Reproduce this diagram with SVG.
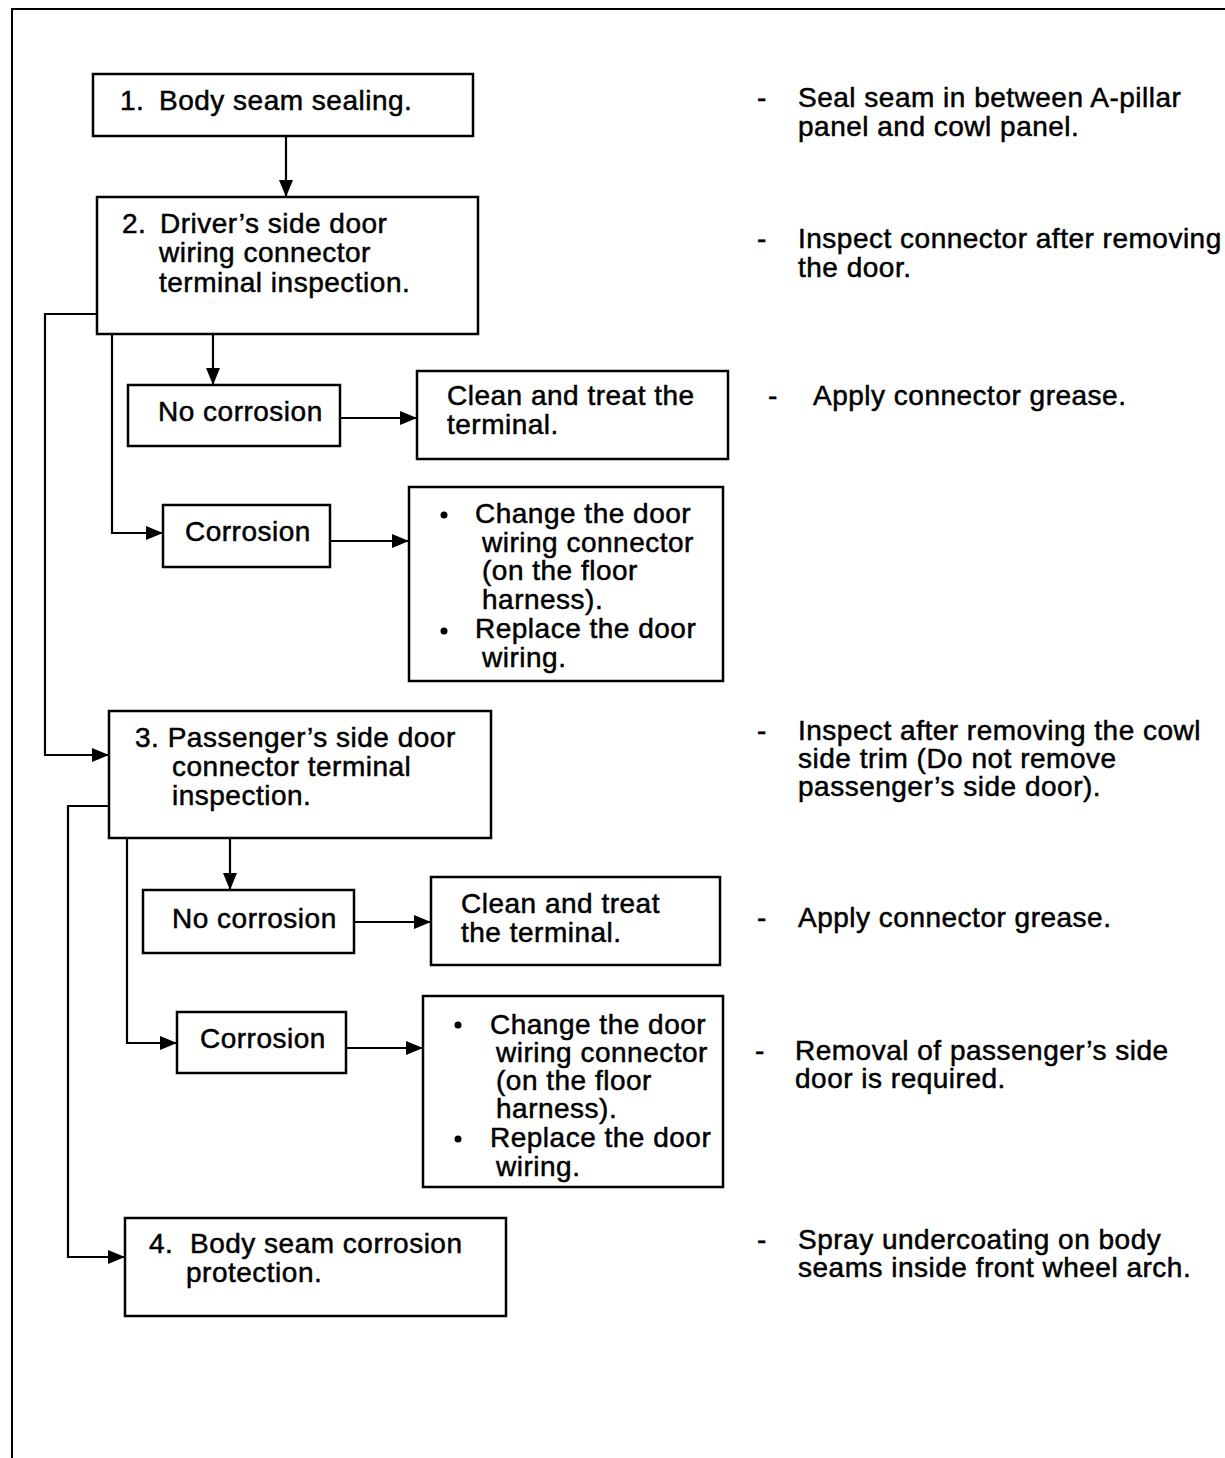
<svg xmlns="http://www.w3.org/2000/svg" width="1225" height="1458" viewBox="0 0 1225 1458">
<style>
.box{fill:#fff;stroke:#000;stroke-width:2.5}
.t{font-family:"Liberation Sans",Arial,sans-serif;font-size:28px;letter-spacing:0.5px;fill:#000;stroke:#000;stroke-width:0.5}
.c{fill:none;stroke:#000;stroke-width:2.2}
.frame{fill:none;stroke:#000;stroke-width:2}
</style>
<defs>
<marker id="ah" markerUnits="userSpaceOnUse" markerWidth="18" markerHeight="18" viewBox="0 0 18 18" refX="17" refY="9" orient="auto">
<path d="M0,2 L17,9 L0,16 Z" fill="#000"/>
</marker>
</defs>
<path class="frame" d="M12,1458 V9 H1225"/>
<g id="connectors">
<path class="c" d="M286,136 V197" marker-end="url(#ah)"/>
<path class="c" d="M213,334 V385" marker-end="url(#ah)"/>
<path class="c" d="M340,418 H417" marker-end="url(#ah)"/>
<path class="c" d="M112,334 V533 H163" marker-end="url(#ah)"/>
<path class="c" d="M330,541 H409" marker-end="url(#ah)"/>
<path class="c" d="M97,314 H45 V755 H109" marker-end="url(#ah)"/>
<path class="c" d="M230,838 V890" marker-end="url(#ah)"/>
<path class="c" d="M354,922 H431" marker-end="url(#ah)"/>
<path class="c" d="M127,838 V1043 H177" marker-end="url(#ah)"/>
<path class="c" d="M346,1048 H423" marker-end="url(#ah)"/>
<path class="c" d="M109,806 H68 V1257 H125" marker-end="url(#ah)"/>
</g>
<g id="n1">
<rect class="box" x="93" y="74" width="380" height="62"/>
<text class="t" x="120" y="110">1.</text>
<text class="t" x="159" y="110">Body seam sealing.</text>
</g>
<g id="n2">
<rect class="box" x="97" y="197" width="381" height="137"/>
<text class="t" x="122" y="233">2.</text>
<text class="t" x="160" y="233">Driver’s side door</text>
<text class="t" x="159" y="262">wiring connector</text>
<text class="t" x="159" y="292">terminal inspection.</text>
</g>
<g id="n2a">
<rect class="box" x="128" y="385" width="212" height="61"/>
<text class="t" x="158" y="421">No corrosion</text>
</g>
<g id="n2b">
<rect class="box" x="417" y="371" width="311" height="88"/>
<text class="t" x="447" y="405">Clean and treat the</text>
<text class="t" x="447" y="434">terminal.</text>
</g>
<g id="n2c">
<rect class="box" x="163" y="505" width="167" height="62"/>
<text class="t" x="185" y="541">Corrosion</text>
</g>
<g id="n2d">
<rect class="box" x="409" y="487" width="314" height="194"/>
<circle cx="444" cy="515" r="3.5"/>
<text class="t" x="475" y="523">Change the door</text>
<text class="t" x="482" y="552">wiring connector</text>
<text class="t" x="482" y="580">(on the floor</text>
<text class="t" x="482" y="609">harness).</text>
<circle cx="444" cy="631" r="3.5"/>
<text class="t" x="475" y="638">Replace the door</text>
<text class="t" x="482" y="667">wiring.</text>
</g>
<g id="n3">
<rect class="box" x="109" y="711" width="382" height="127"/>
<text class="t" x="135" y="747">3. Passenger’s side door</text>
<text class="t" x="172" y="776">connector terminal</text>
<text class="t" x="172" y="805">inspection.</text>
</g>
<g id="n3a">
<rect class="box" x="143" y="890" width="211" height="63"/>
<text class="t" x="172" y="928">No corrosion</text>
</g>
<g id="n3b">
<rect class="box" x="431" y="877" width="289" height="88"/>
<text class="t" x="461" y="913">Clean and treat</text>
<text class="t" x="461" y="942">the terminal.</text>
</g>
<g id="n3c">
<rect class="box" x="177" y="1012" width="169" height="61"/>
<text class="t" x="200" y="1048">Corrosion</text>
</g>
<g id="n3d">
<rect class="box" x="423" y="996" width="300" height="191"/>
<circle cx="458" cy="1025" r="3.5"/>
<text class="t" x="490" y="1034">Change the door</text>
<text class="t" x="496" y="1062">wiring connector</text>
<text class="t" x="496" y="1090">(on the floor</text>
<text class="t" x="496" y="1118">harness).</text>
<circle cx="458" cy="1139" r="3.5"/>
<text class="t" x="490" y="1147">Replace the door</text>
<text class="t" x="496" y="1176">wiring.</text>
</g>
<g id="n4">
<rect class="box" x="125" y="1218" width="381" height="98"/>
<text class="t" x="149" y="1253">4.</text>
<text class="t" x="190" y="1253">Body seam corrosion</text>
<text class="t" x="186" y="1282">protection.</text>
</g>
<g id="notes">
<text class="t" x="757" y="107">-</text>
<text class="t" x="798" y="107">Seal seam in between A-pillar</text>
<text class="t" x="798" y="136">panel and cowl panel.</text>
<text class="t" x="757" y="248">-</text>
<text class="t" x="798" y="248">Inspect connector after removing</text>
<text class="t" x="798" y="277">the door.</text>
<text class="t" x="768" y="405">-</text>
<text class="t" x="813" y="405">Apply connector grease.</text>
<text class="t" x="757" y="740">-</text>
<text class="t" x="798" y="740">Inspect after removing the cowl</text>
<text class="t" x="798" y="768">side trim (Do not remove</text>
<text class="t" x="798" y="796">passenger’s side door).</text>
<text class="t" x="757" y="927">-</text>
<text class="t" x="798" y="927">Apply connector grease.</text>
<text class="t" x="755" y="1060">-</text>
<text class="t" x="795" y="1060">Removal of passenger’s side</text>
<text class="t" x="795" y="1088">door is required.</text>
<text class="t" x="757" y="1249">-</text>
<text class="t" x="798" y="1249">Spray undercoating on body</text>
<text class="t" x="798" y="1277">seams inside front wheel arch.</text>
</g>
</svg>
